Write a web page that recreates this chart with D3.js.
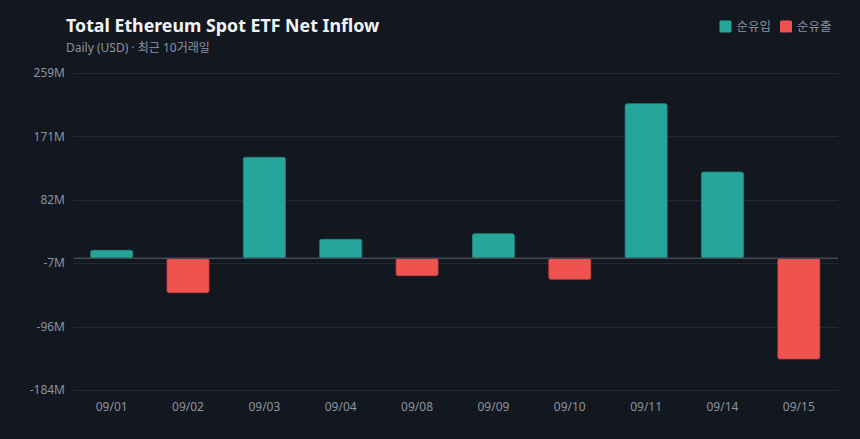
<!DOCTYPE html>
<html lang="ko">
<head>
<meta charset="UTF-8"/>
<title>Total Ethereum Spot ETF Net Inflow</title>
<script src="https://d3js.org/d3.v7.min.js"></script>
<style>
  html, body { margin: 0; padding: 0; background: #121720; }
  svg { display: block; font-family: "Noto Sans", "Noto Sans CJK KR", sans-serif; }
</style>
</head>
<body>
<script>
var w = 860;
var h = 439;

// daily net flow, millions USD
var dates = ["09/01", "09/02", "09/03", "09/04", "09/08", "09/09", "09/10", "09/11", "09/14", "09/15"];
var flows = [11.2, -48.1, 141.3, 26.6, -24.3, 34.4, -29.4, 216.3, 120.7, -140.9];
var legendLabels = ["순유입", "순유출"];
var yDomain = [-184.3, 259.3];

var inColor = "#26a69a";
var outColor = "#ef5350";

var margin = { top: 73, right: 22, bottom: 49, left: 73.5 };

var svg = d3.select("body").append("svg")
  .attr("width", w)
  .attr("height", h);

svg.append("rect").attr("width", w).attr("height", h).attr("fill", "#121720");

var xScale = d3.scaleBand()
  .domain(dates)
  .range([margin.left, w - margin.right - 1])
  .paddingInner(0.45)
  .paddingOuter(0.225);

var yScale = d3.scaleLinear()
  .domain(yDomain)
  .range([h - margin.bottom, margin.top]);

// six evenly spaced ticks across the domain
var yTicks = d3.range(6).map(function(i) {
  return yDomain[0] + i * (yDomain[1] - yDomain[0]) / 5;
});

// gridlines
svg.append("g")
  .selectAll("line")
  .data(yTicks)
  .enter()
  .append("line")
  .attr("x1", margin.left)
  .attr("x2", w - margin.right)
  .attr("y1", function(d) { return Math.round(yScale(d)) + 0.5; })
  .attr("y2", function(d) { return Math.round(yScale(d)) + 0.5; })
  .attr("stroke", "#232932")
  .attr("stroke-width", 1);

// y labels
svg.append("g")
  .selectAll("text")
  .data(yTicks)
  .enter()
  .append("text")
  .attr("x", 65)
  .attr("y", function(d) { return yScale(d); })
  .attr("dy", "0.35em")
  .attr("text-anchor", "end")
  .attr("fill", "#8b949e")
  .attr("font-size", 12)
  .text(function(d) { return Math.round(d) + "M"; });

// bars
function barBox(d, i) {
  var x = xScale(dates[i]);
  var y0 = yScale(0);
  var y1 = yScale(d);
  return { x: x, y: Math.min(y0, y1), w: xScale.bandwidth(), h: Math.abs(y1 - y0) };
}

svg.append("g")
  .selectAll("rect")
  .data(flows)
  .enter()
  .append("rect")
  .attr("x", function(d, i) { return barBox(d, i).x; })
  .attr("y", function(d, i) { return barBox(d, i).y; })
  .attr("width", function(d, i) { return barBox(d, i).w; })
  .attr("height", function(d, i) { return barBox(d, i).h; })
  .attr("rx", 2)
  .attr("fill", function(d) { return d >= 0 ? inColor : outColor; })
  .attr("stroke", function(d) { return d >= 0 ? "#1f8a80" : "#c9403e"; })
  .attr("stroke-width", 0.8);

// zero line
svg.append("line")
  .attr("x1", margin.left)
  .attr("x2", w - margin.right)
  .attr("y1", yScale(0))
  .attr("y2", yScale(0))
  .attr("stroke", "#414a55")
  .attr("stroke-width", 1.5);

// x labels
svg.append("g")
  .selectAll("text")
  .data(dates)
  .enter()
  .append("text")
  .attr("x", function(d) { return xScale(d) + xScale.bandwidth() / 2; })
  .attr("y", 411)
  .attr("text-anchor", "middle")
  .attr("fill", "#8b949e")
  .attr("font-size", 12)
  .text(function(d) { return d; });

// title
svg.append("text")
  .attr("x", 66)
  .attr("y", 31.5)
  .attr("fill", "#f0f3f6")
  .attr("font-size", 17.8)
  .attr("font-weight", "bold")
  .text("Total Ethereum Spot ETF Net Inflow");

svg.append("text")
  .attr("x", 66)
  .attr("y", 51.5)
  .attr("fill", "#8b949e")
  .attr("font-size", 12)
  .text("Daily (USD) · 최근 10거래일");

// legend
var legend = svg.append("g");
var legendX = [719.5, 780];
legend.selectAll("rect")
  .data(legendLabels)
  .enter()
  .append("rect")
  .attr("x", function(d, i) { return legendX[i]; })
  .attr("y", 20.5)
  .attr("width", 12)
  .attr("height", 12)
  .attr("rx", 1.5)
  .attr("fill", function(d, i) { return i === 0 ? inColor : outColor; });

legend.selectAll("text")
  .data(legendLabels)
  .enter()
  .append("text")
  .attr("x", function(d, i) { return legendX[i] + 17; })
  .attr("y", 26.5)
  .attr("dy", "0.35em")
  .attr("fill", "#8b949e")
  .attr("font-size", 12.5)
  .text(function(d) { return d; });
</script>
</body>
</html>
